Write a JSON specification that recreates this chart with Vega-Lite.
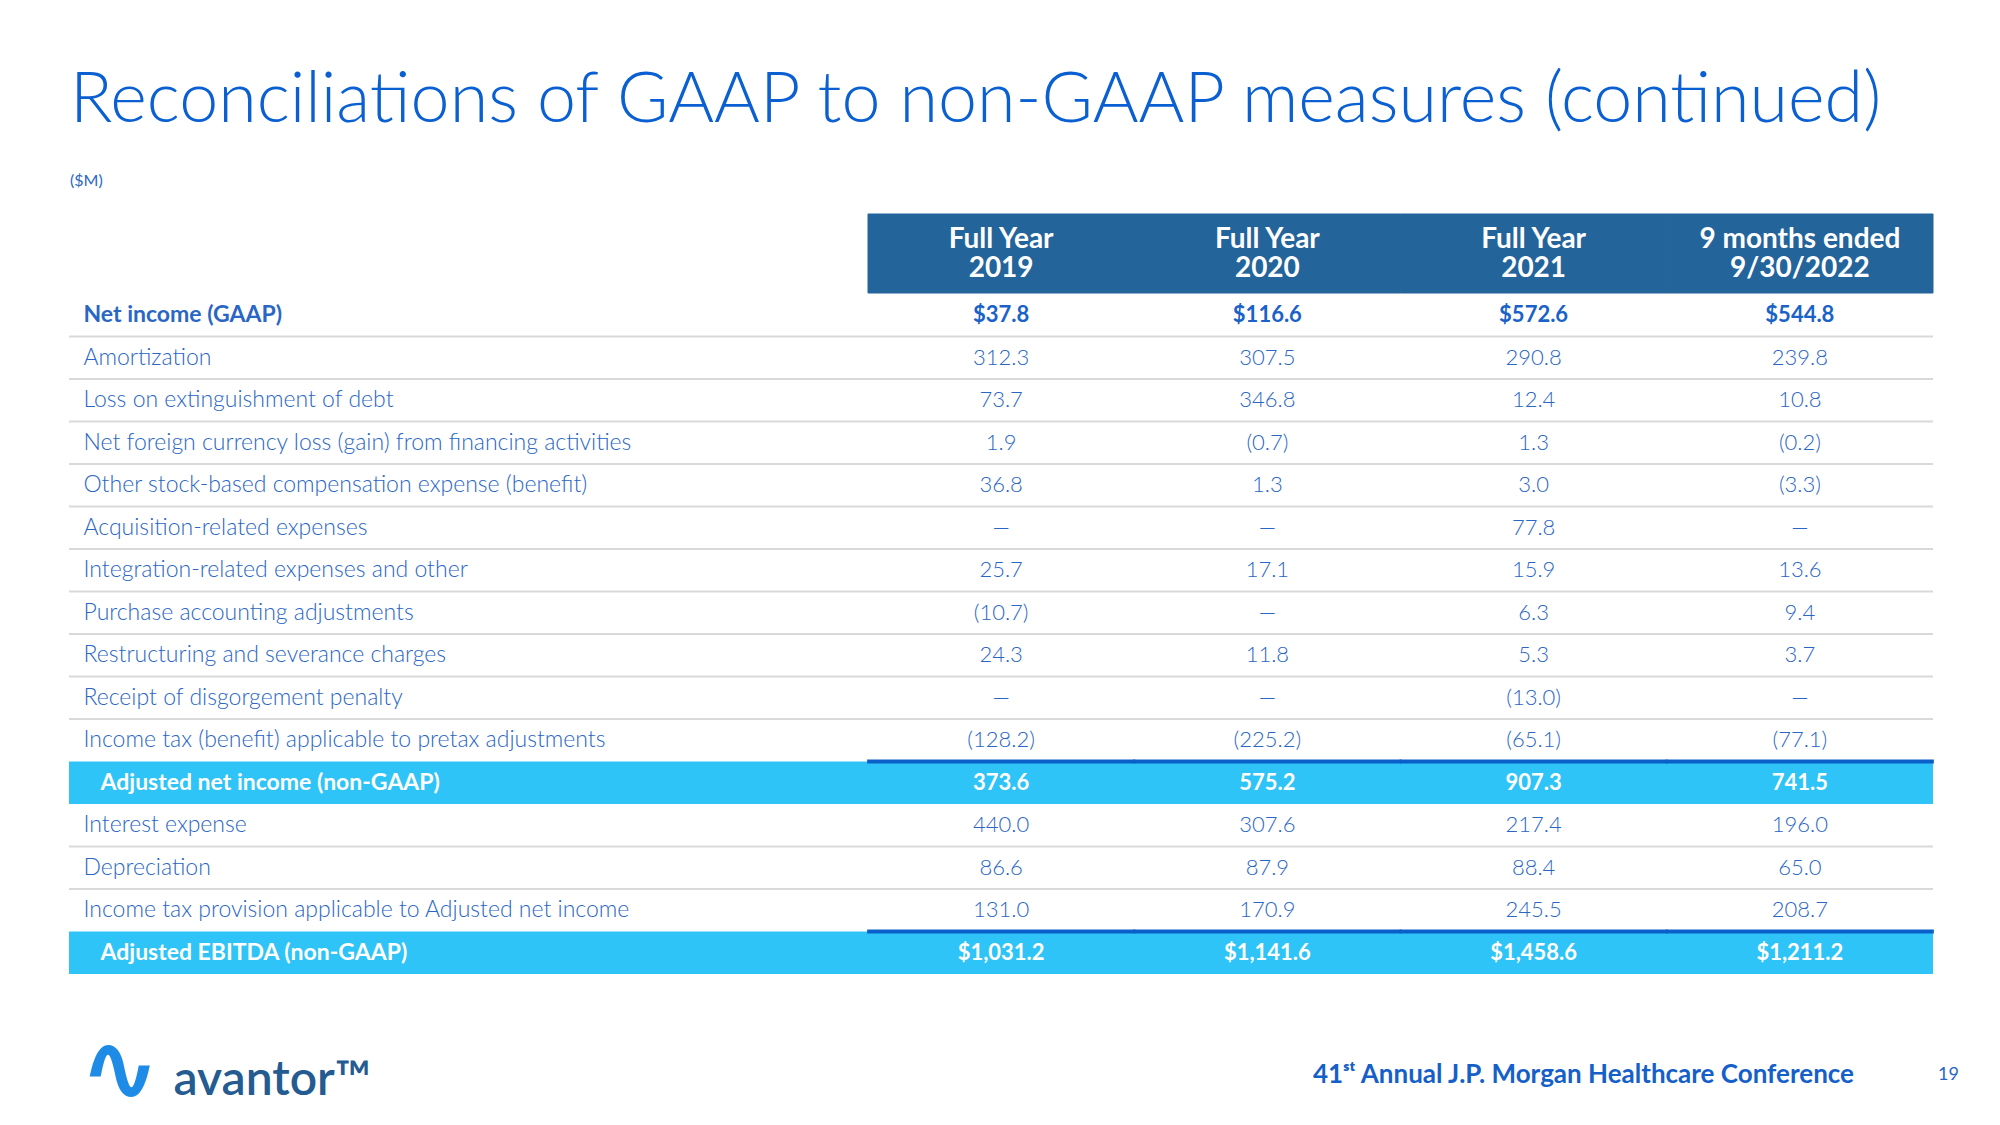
{
  "$schema": "https://vega.github.io/schema/vega-lite/v6.json",
  "background": "white",
  "padding": {"left": 68, "top": 65, "right": 0, "bottom": 2},
  "config": {"view": {"stroke": null}, "font": "Lato"},
  "datasets": {
    "header": [
      {"period": "Full Year 2019", "lines": ["Full Year", "2019"]},
      {"period": "Full Year 2020", "lines": ["Full Year", "2020"]},
      {"period": "Full Year 2021", "lines": ["Full Year", "2021"]},
      {"period": "9 months ended 9/30/2022", "lines": ["9 months ended", "9/30/2022"]}
    ],
    "table": [
      {"item": "Net income (GAAP)", "kind": "gaap", "Full Year 2019": 37.8, "Full Year 2020": 116.6, "Full Year 2021": 572.6, "9 months ended 9/30/2022": 544.8},
      {"item": "Amortization", "kind": "adjustment", "Full Year 2019": 312.3, "Full Year 2020": 307.5, "Full Year 2021": 290.8, "9 months ended 9/30/2022": 239.8},
      {"item": "Loss on extinguishment of debt", "kind": "adjustment", "Full Year 2019": 73.7, "Full Year 2020": 346.8, "Full Year 2021": 12.4, "9 months ended 9/30/2022": 10.8},
      {"item": "Net foreign currency loss (gain) from financing activities", "kind": "adjustment", "Full Year 2019": 1.9, "Full Year 2020": -0.7, "Full Year 2021": 1.3, "9 months ended 9/30/2022": -0.2},
      {"item": "Other stock-based compensation expense (benefit)", "kind": "adjustment", "Full Year 2019": 36.8, "Full Year 2020": 1.3, "Full Year 2021": 3.0, "9 months ended 9/30/2022": -3.3},
      {"item": "Acquisition-related expenses", "kind": "adjustment", "Full Year 2019": null, "Full Year 2020": null, "Full Year 2021": 77.8, "9 months ended 9/30/2022": null},
      {"item": "Integration-related expenses and other", "kind": "adjustment", "Full Year 2019": 25.7, "Full Year 2020": 17.1, "Full Year 2021": 15.9, "9 months ended 9/30/2022": 13.6},
      {"item": "Purchase accounting adjustments", "kind": "adjustment", "Full Year 2019": -10.7, "Full Year 2020": null, "Full Year 2021": 6.3, "9 months ended 9/30/2022": 9.4},
      {"item": "Restructuring and severance charges", "kind": "adjustment", "Full Year 2019": 24.3, "Full Year 2020": 11.8, "Full Year 2021": 5.3, "9 months ended 9/30/2022": 3.7},
      {"item": "Receipt of disgorgement penalty", "kind": "adjustment", "Full Year 2019": null, "Full Year 2020": null, "Full Year 2021": -13.0, "9 months ended 9/30/2022": null},
      {"item": "Income tax (benefit) applicable to pretax adjustments", "kind": "tax", "Full Year 2019": -128.2, "Full Year 2020": -225.2, "Full Year 2021": -65.1, "9 months ended 9/30/2022": -77.1},
      {"item": "Adjusted net income (non-GAAP)", "kind": "subtotal", "Full Year 2019": 373.6, "Full Year 2020": 575.2, "Full Year 2021": 907.3, "9 months ended 9/30/2022": 741.5},
      {"item": "Interest expense", "kind": "adjustment", "Full Year 2019": 440.0, "Full Year 2020": 307.6, "Full Year 2021": 217.4, "9 months ended 9/30/2022": 196.0},
      {"item": "Depreciation", "kind": "adjustment", "Full Year 2019": 86.6, "Full Year 2020": 87.9, "Full Year 2021": 88.4, "9 months ended 9/30/2022": 65.0},
      {"item": "Income tax provision applicable to Adjusted net income", "kind": "tax", "Full Year 2019": 131.0, "Full Year 2020": 170.9, "Full Year 2021": 245.5, "9 months ended 9/30/2022": 208.7},
      {"item": "Adjusted EBITDA (non-GAAP)", "kind": "total", "Full Year 2019": 1031.2, "Full Year 2020": 1141.6, "Full Year 2021": 1458.6, "9 months ended 9/30/2022": 1211.2}
    ]
  },
  "title": {
    "text": "19",
    "orient": "bottom",
    "anchor": "end",
    "frame": "bounds",
    "font": "Lato",
    "fontSize": 18,
    "fontWeight": 400,
    "color": "#2A66C4",
    "baseline": "top",
    "dx": 25,
    "offset": -53
  },
  "spacing": 0,
  "vconcat": [
    {
      "width": 1864,
      "height": 79,
      "data": {"name": "header"},
      "title": {
        "text": "Reconciliations of GAAP to non-GAAP measures (continued)",
        "subtitle": "($M)",
        "anchor": "start",
        "frame": "group",
        "font": "Lato",
        "fontSize": 70,
        "fontWeight": 300,
        "color": "#0A60D2",
        "subtitleFont": "Lato",
        "subtitleFontSize": 16,
        "subtitleFontWeight": 400,
        "subtitleColor": "#2A66C4",
        "subtitlePadding": 36,
        "offset": 24,
        "dx": 1
      },
      "encoding": {
        "x": {
          "field": "period",
          "type": "nominal",
          "axis": null,
          "scale": {
            "domain": ["Full Year 2019", "Full Year 2020", "Full Year 2021", "9 months ended 9/30/2022"],
            "range": [799, 1864],
            "paddingInner": 0,
            "paddingOuter": 0
          }
        }
      },
      "layer": [
        {"mark": {"type": "rect", "color": "#23649B", "stroke": "#23649B", "strokeWidth": 1}},
        {
          "mark": {"type": "text", "color": "white", "font": "Lato", "fontSize": 28, "fontWeight": "bold", "lineHeight": 29, "baseline": "middle", "align": "center", "dy": -14},
          "encoding": {"text": {"field": "lines", "type": "nominal"}}
        }
      ]
    },
    {
      "width": 1864,
      "height": 680,
      "data": {"name": "table"},
      "title": {
        "text": "41ˢᵗ Annual J.P. Morgan Healthcare Conference",
        "orient": "bottom",
        "anchor": "end",
        "frame": "group",
        "font": "Lato",
        "fontSize": 26,
        "fontWeight": "bold",
        "color": "#1560C8",
        "baseline": "top",
        "dx": -79,
        "offset": -57
      },
      "layer": [
        {
          "transform": [{"filter": "datum.kind === 'subtotal' || datum.kind === 'total'"}],
          "mark": {"type": "rect", "color": "#2EC4F8"},
          "encoding": {
            "y": {
              "field": "item",
              "type": "nominal",
              "scale": {
                "domain": [
                  "Net income (GAAP)",
                  "Amortization",
                  "Loss on extinguishment of debt",
                  "Net foreign currency loss (gain) from financing activities",
                  "Other stock-based compensation expense (benefit)",
                  "Acquisition-related expenses",
                  "Integration-related expenses and other",
                  "Purchase accounting adjustments",
                  "Restructuring and severance charges",
                  "Receipt of disgorgement penalty",
                  "Income tax (benefit) applicable to pretax adjustments",
                  "Adjusted net income (non-GAAP)",
                  "Interest expense",
                  "Depreciation",
                  "Income tax provision applicable to Adjusted net income",
                  "Adjusted EBITDA (non-GAAP)"
                ],
                "paddingInner": 0,
                "paddingOuter": 0
              },
              "axis": {
                "orient": "left",
                "offset": -14,
                "domain": false,
                "ticks": false,
                "grid": false,
                "labelPadding": {"condition": {"test": "datum.value === 'Adjusted net income (non-GAAP)' || datum.value === 'Adjusted EBITDA (non-GAAP)'", "value": -17}, "value": 0},
                "labelAlign": "left",
                "labelBaseline": "middle",
                "labelFont": "Lato",
                "labelFontSize": 23,
                "labelLimit": 0,
                "labelColor": {"condition": {"test": "datum.value === 'Adjusted net income (non-GAAP)' || datum.value === 'Adjusted EBITDA (non-GAAP)'", "value": "white"}, "value": "#2A66C4"},
                "labelFontWeight": {"condition": {"test": "datum.value === 'Adjusted net income (non-GAAP)' || datum.value === 'Adjusted EBITDA (non-GAAP)' || datum.value === 'Net income (GAAP)'", "value": "bold"}, "value": 300},
                "zindex": 2,
                "title": "∿",
                "titleAngle": 0,
                "titleAlign": "left",
                "titleBaseline": "bottom",
                "titleX": -4,
                "titleY": 826,
                "titleFont": "DejaVu Sans",
                "titleFontSize": 96,
                "titleFontStyle": "italic",
                "titleFontWeight": "bold",
                "titleColor": "#1E8CE6"
              }
            }
          }
        },
        {
          "transform": [{"filter": "datum.kind === 'gaap' || datum.kind === 'adjustment'"}],
          "mark": {"type": "rule", "color": "#D9D9D9", "strokeWidth": 2},
          "encoding": {"y": {"field": "item", "type": "nominal", "bandPosition": 1}}
        },
        {
          "transform": [
            {"fold": ["Full Year 2019", "Full Year 2020", "Full Year 2021", "9 months ended 9/30/2022"], "as": ["period", "value"]},
            {"filter": "datum.kind === 'subtotal' || datum.kind === 'total'"}
          ],
          "mark": {"type": "tick", "orient": "horizontal", "size": 268, "thickness": 4, "color": "#0B5FC9", "opacity": 1},
          "encoding": {
            "y": {"field": "item", "type": "nominal", "bandPosition": 0},
            "x": {
              "field": "period",
              "type": "nominal",
              "scale": {
                "domain": ["Full Year 2019", "Full Year 2020", "Full Year 2021", "9 months ended 9/30/2022"],
                "range": [799, 1864],
                "paddingInner": 0,
                "paddingOuter": 0
              },
              "axis": {
                "orient": "bottom",
                "labels": false,
                "ticks": false,
                "domain": false,
                "grid": false,
                "title": "avantor™",
                "titleAlign": "left",
                "titleBaseline": "bottom",
                "titleX": 104,
                "titleY": 130,
                "titleFont": "Lato",
                "titleFontSize": 48,
                "titleFontWeight": 600,
                "titleColor": "#245B91"
              }
            }
          }
        },
        {
          "transform": [
            {"fold": ["Full Year 2019", "Full Year 2020", "Full Year 2021", "9 months ended 9/30/2022"], "as": ["period", "value"]},
            {"filter": "datum.kind === 'gaap'"}
          ],
          "mark": {"type": "text", "font": "Lato", "fontSize": 22, "fontWeight": "bold", "color": "#1A62C8", "baseline": "middle", "align": "center"},
          "encoding": {
            "y": {"field": "item", "type": "nominal"},
            "x": {"field": "period", "type": "nominal"},
            "text": {"field": "value", "type": "quantitative", "format": "$.1f"}
          }
        },
        {
          "transform": [
            {"fold": ["Full Year 2019", "Full Year 2020", "Full Year 2021", "9 months ended 9/30/2022"], "as": ["period", "value"]},
            {"filter": "datum.kind === 'adjustment' || datum.kind === 'tax'"}
          ],
          "mark": {"type": "text", "font": "Lato", "fontSize": 22, "fontWeight": 300, "color": "#2A66C4", "baseline": "middle", "align": "center"},
          "encoding": {
            "y": {"field": "item", "type": "nominal"},
            "x": {"field": "period", "type": "nominal"},
            "text": {"condition": {"test": "datum.value === null", "value": "—"}, "field": "value", "type": "quantitative", "format": "(.1f"}
          }
        },
        {
          "transform": [
            {"fold": ["Full Year 2019", "Full Year 2020", "Full Year 2021", "9 months ended 9/30/2022"], "as": ["period", "value"]},
            {"filter": "datum.kind === 'subtotal'"}
          ],
          "mark": {"type": "text", "font": "Lato", "fontSize": 22, "fontWeight": "bold", "color": "white", "baseline": "middle", "align": "center"},
          "encoding": {
            "y": {"field": "item", "type": "nominal"},
            "x": {"field": "period", "type": "nominal"},
            "text": {"field": "value", "type": "quantitative", "format": ".1f"}
          }
        },
        {
          "transform": [
            {"fold": ["Full Year 2019", "Full Year 2020", "Full Year 2021", "9 months ended 9/30/2022"], "as": ["period", "value"]},
            {"filter": "datum.kind === 'total'"}
          ],
          "mark": {"type": "text", "font": "Lato", "fontSize": 22, "fontWeight": "bold", "color": "white", "baseline": "middle", "align": "center"},
          "encoding": {
            "y": {"field": "item", "type": "nominal"},
            "x": {"field": "period", "type": "nominal"},
            "text": {"field": "value", "type": "quantitative", "format": "$,.1f"}
          }
        }
      ]
    }
  ]
}
